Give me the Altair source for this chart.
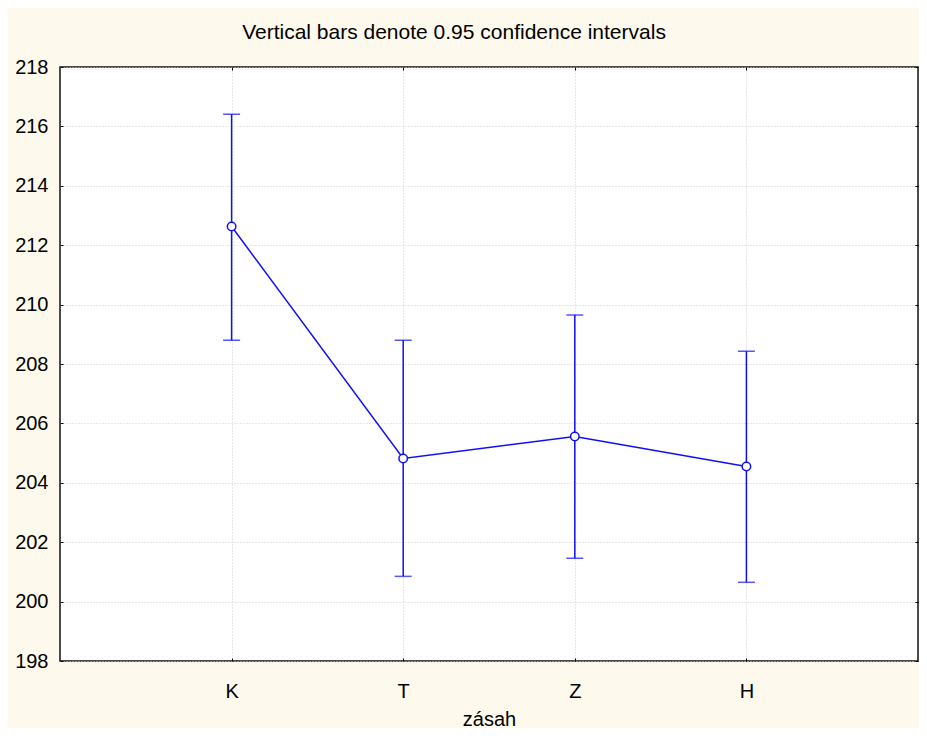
import altair as alt
import pandas as pd

categories = ["K", "T", "Z", "H"]
means = [212.63, 204.82, 205.56, 204.55]
lower = [208.80, 200.85, 201.46, 200.65]
upper = [216.41, 208.80, 209.65, 208.43]
y_ticks = [198, 200, 202, 204, 206, 208, 210, 212, 214, 216, 218]

df = pd.DataFrame({"zasah": categories, "mean": means, "lo": lower, "hi": upper})

W, H = 858, 594
BLUE = "#1010F5"
FONT = "Liberation Sans"

xscale = alt.Scale(type="point", domain=categories, padding=1)
yscale = alt.Scale(domain=[198, 218], nice=False, zero=False)

grid_common = dict(grid=True, gridColor="#cfcfcf", gridDash=[1, 2], gridWidth=1,
                   domain=False, ticks=False, labels=False, title=None)
grid_x = alt.Axis(orient="bottom", **grid_common)
grid_y = alt.Axis(orient="left", values=y_ticks, **grid_common)

lab_x = alt.Axis(orient="top", offset=-H, grid=False, domain=False,
                 ticks=True, tickSize=3, tickColor="black", tickWidth=1,
                 labels=True, labelAngle=0, labelAlign="center",
                 labelBaseline="top", labelPadding=-23,
                 labelFont=FONT, labelFontSize=20, labelColor="black",
                 title="zásah", titleY=64, titleBaseline="alphabetic",
                 titleFont=FONT, titleFontSize=20, titleFontWeight="normal",
                 titleColor="black")
lab_y = alt.Axis(orient="right", offset=-W, values=y_ticks, grid=False, domain=False,
                 ticks=True, tickSize=3, tickColor="black", tickWidth=1,
                 labels=True, labelAngle=0, labelAlign="right", labelBaseline="middle",
                 labelPadding=-15, labelOverlap=False, labelFlush=False,
                 labelFont=FONT, labelFontSize=20, labelColor="black", title=None)
tick_x = alt.Axis(orient="bottom", offset=-H, grid=False, domain=False,
                  ticks=True, tickSize=3, tickColor="black", tickWidth=1,
                  labels=False, title=None)
tick_y = alt.Axis(orient="left", offset=-W, values=y_ticks, grid=False, domain=False,
                  ticks=True, tickSize=3, tickColor="black", tickWidth=1,
                  labels=False, title=None)

base = alt.Chart(df)

bars = base.mark_rule(color=BLUE, strokeWidth=1.5).encode(
    x=alt.X("zasah:N", scale=xscale, axis=grid_x, sort=categories),
    y=alt.Y("lo:Q", scale=yscale, axis=grid_y),
    y2="hi:Q",
)
caps_lo = base.mark_tick(color=BLUE, size=17, thickness=1.5, orient="horizontal").encode(
    x=alt.X("zasah:N", scale=xscale, axis=lab_x, sort=categories),
    y=alt.Y("lo:Q", scale=yscale, axis=lab_y),
)
caps_hi = base.mark_tick(color=BLUE, size=17, thickness=1.5, orient="horizontal").encode(
    x=alt.X("zasah:N", scale=xscale, axis=None, sort=categories),
    y=alt.Y("hi:Q", scale=yscale, axis=None),
)
line = base.mark_line(color=BLUE, strokeWidth=1.5).encode(
    x=alt.X("zasah:N", scale=xscale, axis=tick_x, sort=categories),
    y=alt.Y("mean:Q", scale=yscale, axis=tick_y),
)
points = base.mark_point(shape="circle", filled=True, fill="white", stroke=BLUE,
                         strokeWidth=1.5, size=72, opacity=1).encode(
    x=alt.X("zasah:N", scale=xscale, axis=None, sort=categories),
    y=alt.Y("mean:Q", scale=yscale, axis=None),
)

chart = alt.layer(bars, caps_lo, caps_hi, line, points).resolve_axis(
    x="independent", y="independent"
).properties(
    width=W,
    height=H,
    padding={"left": 52, "top": 59, "right": 1, "bottom": 67},
    autosize=alt.AutoSizeParams(type="none"),
    title=alt.TitleParams(
        "Vertical bars denote 0.95 confidence intervals",
        font=FONT, fontSize=21, fontWeight="normal", color="black",
        anchor="middle", dx=-35, offset=-3, baseline="alphabetic",
    ),
).configure(
    background="#FDF9EC",
).configure_view(
    fill="white", stroke="#111111", strokeWidth=1.5,
)

chart.save("out.html", embed_options={"renderer": "svg", "actions": False})
